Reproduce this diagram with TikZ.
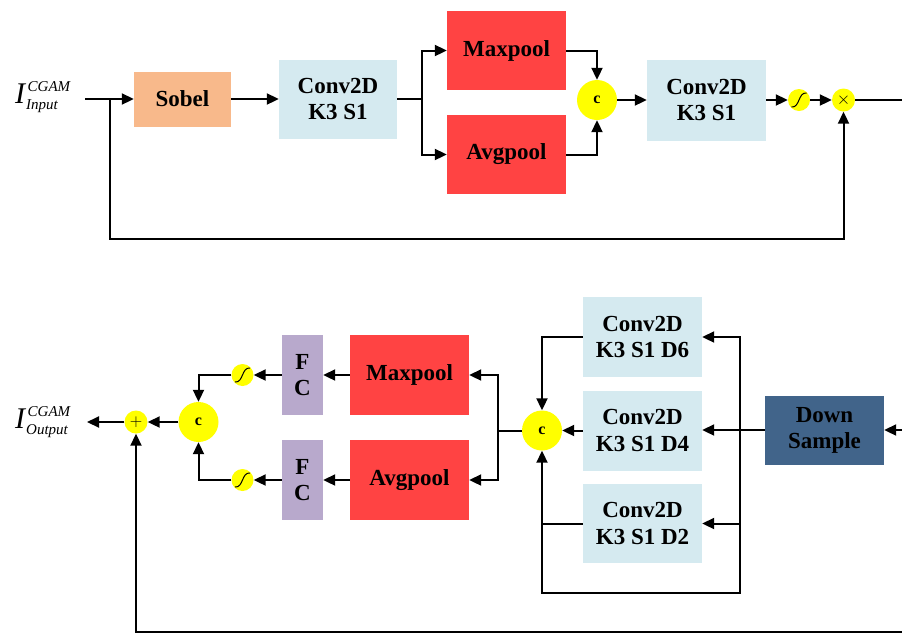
\documentclass[tikz,border=0pt]{standalone}
\usepackage{fontspec}
\setmainfont{Liberation Serif}
\usetikzlibrary{arrows.meta,calc}
\definecolor{sobelc}{HTML}{F8B98B}
\definecolor{convc}{HTML}{D5EAF0}
\definecolor{poolc}{HTML}{FF4343}
\definecolor{fcc}{HTML}{B8A9CC}
\definecolor{dsc}{HTML}{41648A}
\definecolor{yel}{HTML}{FFFF00}
\newcommand{\cgamlabel}[1]{{\fontsize{30}{30}\selectfont\itshape I\kern2.5pt}{\fontsize{15}{15}\selectfont\itshape\makebox[0pt][l]{\kern-1.5pt\raisebox{-6pt}{#1}}\raisebox{11.5pt}{CGAM}}}
\tikzset{
  blk/.style={inner sep=0pt, align=center, font=\fontsize{23}{26.5}\selectfont\bfseries},
  catc/.style={circle, fill=yel, minimum size=40pt, inner sep=0pt, font=\fontsize{16}{16}\selectfont\bfseries},
  opc/.style={circle, fill=yel, minimum size=23pt, inner sep=0pt, font=\fontsize{17}{17}\selectfont},
  sigm/.style={circle, fill=yel, minimum size=22pt, inner sep=0pt,
    path picture={\draw[line width=1pt]
      ([shift={(-7.5pt,-7pt)}]path picture bounding box.center) .. controls
      ([shift={(1pt,-8pt)}]path picture bounding box.center) and
      ([shift={(-1pt,8pt)}]path picture bounding box.center) ..
      ([shift={(7.5pt,7pt)}]path picture bounding box.center);}},
  ln/.style={line width=2pt},
  arr/.style={line width=2pt, -{Triangle[length=12pt,width=11pt]}},
  lab/.style={inner sep=0pt}
}
\begin{document}
\begin{tikzpicture}[x=1pt,y=-1pt]
\useasboundingbox (0,0) rectangle (902,633);
% ---------- top row ----------
\node[lab, anchor=base west] (inlab) at (15,103) {\cgamlabel{Input}};
\coordinate (inst) at (85,99);
\coordinate (fb1) at (110,99);
\node[blk, fill=sobelc, minimum width=97pt, minimum height=55pt] (sobel) at (182.5,99) {Sobel};
\node[blk, fill=convc, minimum width=118pt, minimum height=79pt] (conv1) at (338,99) {Conv2D\\K3 S1};
\coordinate (j1) at (422,99);
\node[blk, fill=poolc, minimum width=119pt, minimum height=79pt] (max1) at (506.5,50.5) {Maxpool};
\node[blk, fill=poolc, minimum width=119pt, minimum height=79pt] (avg1) at (506.5,154.5) {Avgpool};
\node[catc] (cat1) at (597,100) {c};
\node[blk, fill=convc, minimum width=119pt, minimum height=81pt] (conv2) at (706.5,100) {Conv2D\\K3 S1};
\node[sigm] (sig1) at (799,100) {};
\node[opc] (mul) at (843.5,100) {$\times$};
\coordinate (outr) at (902,100);
\coordinate (fbb) at (110,239);

\draw[arr] (inst) -- (sobel.west);
\draw[arr] (sobel.east) -- (conv1.west);
\draw[ln] (conv1.east) -- (j1);
\draw[arr] (j1) |- (max1.west);
\draw[arr] (j1) |- (avg1.west);
\draw[arr] (max1.east) -| (cat1.north);
\draw[arr] (avg1.east) -| (cat1.south);
\draw[arr] (cat1.east) -- (conv2.west |- cat1.east);
\draw[arr] (conv2.east |- sig1.west) -- (sig1.west);
\draw[arr] (sig1.east) -- (mul.west);
\draw[ln] (mul.east) -- (outr);
\draw[arr] (fb1) -- (fbb) -| (mul.south);

% ---------- bottom row ----------
\coordinate (inr) at (902,430);
\node[blk, fill=dsc, minimum width=119pt, minimum height=69pt] (ds) at (824.5,430.5) {Down\\Sample};
\coordinate (j2) at (740,430);
\coordinate (bot) at (740,593);
\node[blk, fill=convc, minimum width=119pt, minimum height=80pt] (d6) at (642.5,337) {Conv2D\\K3 S1 D6};
\node[blk, fill=convc, minimum width=119pt, minimum height=80pt] (d4) at (642.5,430.5) {Conv2D\\K3 S1 D4};
\node[blk, fill=convc, minimum width=119pt, minimum height=79pt] (d2) at (642.5,523.5) {Conv2D\\K3 S1 D2};
\node[catc] (cat2) at (542,430.5) {c};
\coordinate (j3) at (498,430.5);
\node[blk, fill=poolc, minimum width=119pt, minimum height=80pt] (max2) at (409.5,375) {Maxpool};
\node[blk, fill=poolc, minimum width=119pt, minimum height=80pt] (avg2) at (409.5,480) {Avgpool};
\node[blk, fill=fcc, minimum width=41pt, minimum height=80pt] (fc1) at (302.5,375) {F\\C};
\node[blk, fill=fcc, minimum width=41pt, minimum height=80pt] (fc2) at (302.5,480) {F\\C};
\node[sigm] (sig2) at (242.5,375) {};
\node[sigm] (sig3) at (242.5,480) {};
\node[catc] (cat3) at (198.5,422) {c};
\node[opc] (plus) at (136,422) {$+$};
\coordinate (outend) at (87,422);
\node[lab, anchor=base west] (outlab) at (15,428) {\cgamlabel{Output}};
\coordinate (fbr) at (902,632);

\draw[arr] (inr) -- (ds.east |- inr);
\draw[ln] (ds.west |- j2) -- (j2);
\draw[arr] (j2) -- (d4.east |- j2);
\draw[arr] (j2) |- (d6.east);
\draw[arr] (j2) |- (d2.east);
\draw[arr] (j2) -- (bot) -| (cat2.south);
\draw[arr] (d6.west) -| (cat2.north);
\draw[ln] (d2.west) -- (d2.west -| cat2.south);
\draw[arr] (d4.west) -- (cat2.east);
\draw[ln] (cat2.west) -- (j3);
\draw[arr] (j3) |- (max2.east);
\draw[arr] (j3) |- (avg2.east);
\draw[arr] (max2.west) -- (fc1.east);
\draw[arr] (avg2.west) -- (fc2.east);
\draw[arr] (fc1.west) -- (sig2.east);
\draw[arr] (fc2.west) -- (sig3.east);
\draw[arr] (sig2.west) -| (cat3.north);
\draw[arr] (sig3.west) -| (cat3.south);
\draw[arr] (cat3.west) -- (plus.east);
\draw[arr] (plus.west) -- (outend);
\draw[arr] (fbr) -| (plus.south);
\end{tikzpicture}
\end{document}
